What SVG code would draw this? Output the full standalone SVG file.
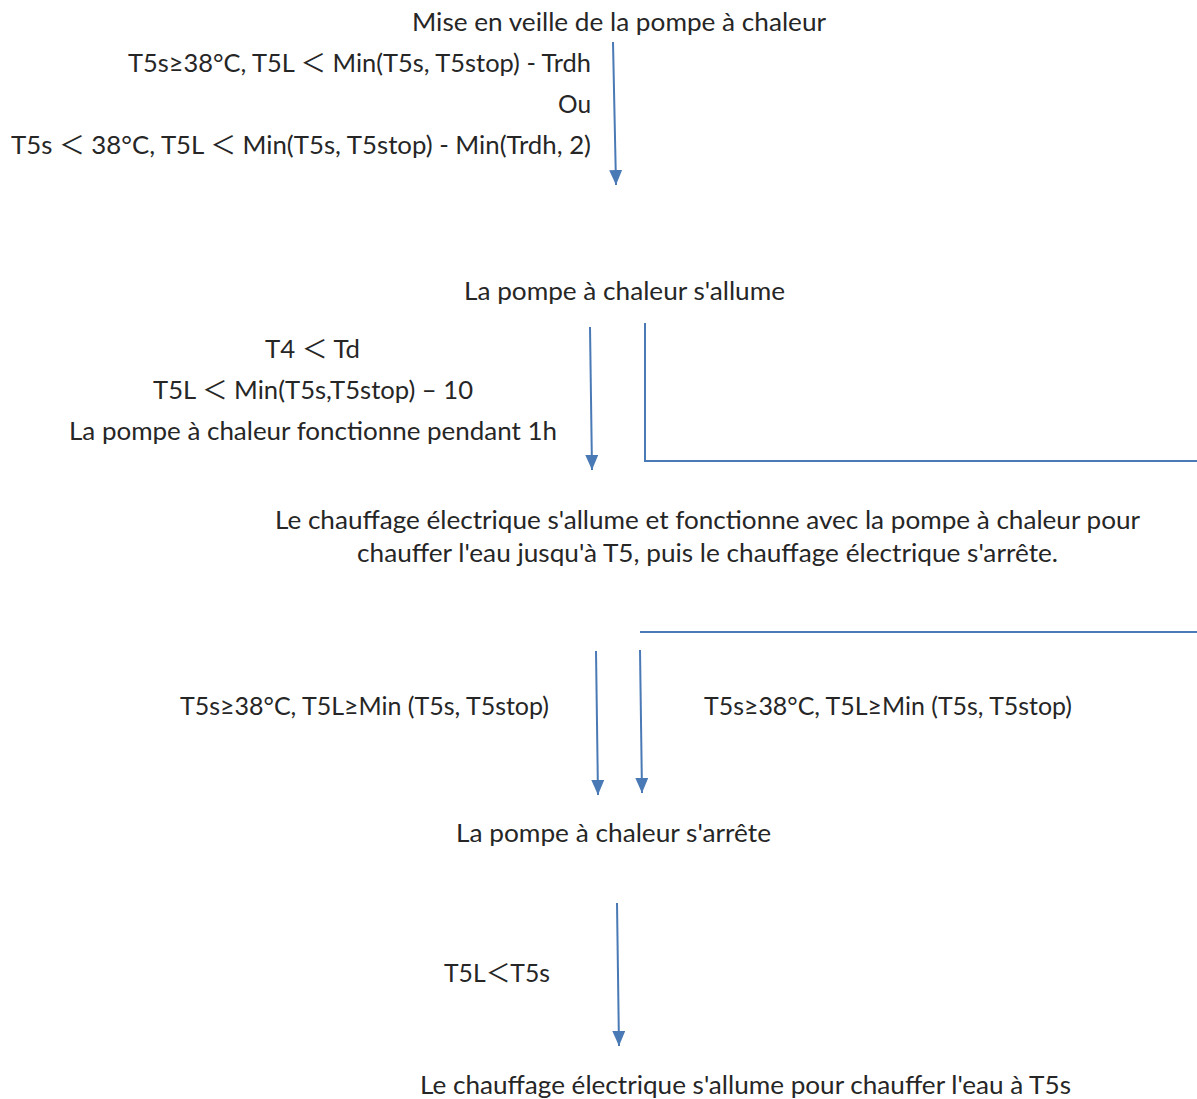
<svg xmlns="http://www.w3.org/2000/svg" width="1197" height="1099" viewBox="0 0 1197 1099">
  <style>
    text { font-family: Lato, "Noto Sans", "Noto Sans CJK SC", sans-serif; font-size: 25px; fill: #262626; }
    .wire { stroke: #4a7ab5; stroke-width: 2; fill: none; }
  </style>
  <defs>
    <marker id="head" markerUnits="userSpaceOnUse" markerWidth="16" markerHeight="14" refX="15" refY="6.5" orient="auto">
      <path d="M0,0 L15,6.5 L0,13 z" fill="#4a7ab5"/>
    </marker>
  </defs>
  <rect width="1197" height="1099" fill="#ffffff"/>

  <g id="connectors">
    <line class="wire" x1="613" y1="42" x2="616" y2="185" marker-end="url(#head)"/>
    <line class="wire" x1="590" y1="327" x2="592" y2="470" marker-end="url(#head)"/>
    <polyline class="wire" points="645,323 645,461 1197,461"/>
    <line class="wire" x1="640" y1="632" x2="1197" y2="632"/>
    <line class="wire" x1="596" y1="651" x2="598" y2="795" marker-end="url(#head)"/>
    <line class="wire" x1="640" y1="650" x2="642" y2="793" marker-end="url(#head)"/>
    <line class="wire" x1="617" y1="903" x2="619" y2="1046" marker-end="url(#head)"/>
  </g>

  <g id="standby">
    <text x="412" y="31" textLength="414" lengthAdjust="spacingAndGlyphs">Mise en veille de la pompe à chaleur</text>
  </g>
  <g id="start-conditions">
    <text x="128" y="72" textLength="463" lengthAdjust="spacingAndGlyphs">T5s≥38°C, T5L ＜ Min(T5s, T5stop) - Trdh</text>
    <text x="591" y="113" textLength="33" lengthAdjust="spacingAndGlyphs" text-anchor="end">Ou</text>
    <text x="11" y="154" textLength="580" lengthAdjust="spacingAndGlyphs">T5s ＜ 38°C, T5L ＜ Min(T5s, T5stop) - Min(Trdh, 2)</text>
  </g>
  <g id="pump-on">
    <text x="464" y="300" textLength="321" lengthAdjust="spacingAndGlyphs">La pompe à chaleur s'allume</text>
  </g>
  <g id="heater-conditions">
    <text x="265" y="358" textLength="95" lengthAdjust="spacingAndGlyphs">T4 ＜ Td</text>
    <text x="153" y="399" textLength="320" lengthAdjust="spacingAndGlyphs">T5L ＜ Min(T5s,T5stop) – 10</text>
    <text x="69" y="440" textLength="488" lengthAdjust="spacingAndGlyphs">La pompe à chaleur fonctionne pendant 1h</text>
  </g>
  <g id="heater-with-pump">
    <text x="275" y="529" textLength="865" lengthAdjust="spacingAndGlyphs">Le chauffage électrique s'allume et fonctionne avec la pompe à chaleur pour</text>
    <text x="357" y="562" textLength="701" lengthAdjust="spacingAndGlyphs">chauffer l'eau jusqu'à T5, puis le chauffage électrique s'arrête.</text>
  </g>
  <g id="stop-conditions">
    <text x="180" y="715" textLength="369" lengthAdjust="spacingAndGlyphs">T5s≥38°C, T5L≥Min (T5s, T5stop)</text>
    <text x="704" y="715" textLength="368" lengthAdjust="spacingAndGlyphs">T5s≥38°C, T5L≥Min (T5s, T5stop)</text>
  </g>
  <g id="pump-off">
    <text x="456" y="842" textLength="315" lengthAdjust="spacingAndGlyphs">La pompe à chaleur s'arrête</text>
  </g>
  <g id="reheat-condition">
    <text x="444" y="982" textLength="106" lengthAdjust="spacingAndGlyphs">T5L＜T5s</text>
  </g>
  <g id="heater-only">
    <text x="420" y="1094" textLength="651" lengthAdjust="spacingAndGlyphs">Le chauffage électrique s'allume pour chauffer l'eau à T5s</text>
  </g>
</svg>
